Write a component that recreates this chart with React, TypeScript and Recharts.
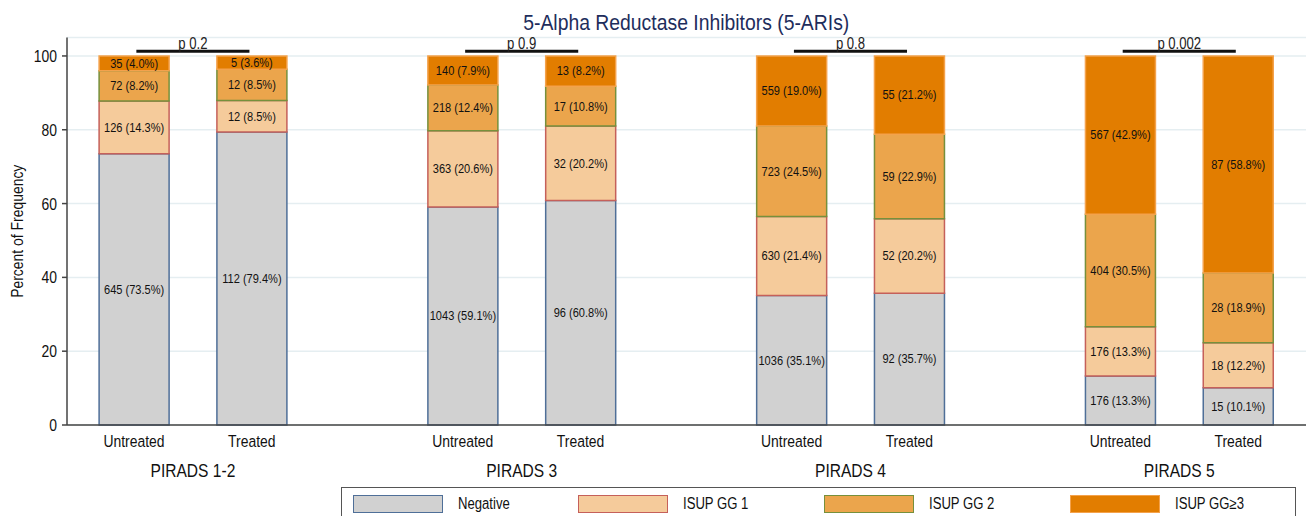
import {
	Bar,
	BarChart,
	CartesianGrid,
	LabelList,
	Legend,
	ReferenceLine,
	XAxis,
	YAxis,
} from 'recharts';

const FONT = "'Liberation Sans', Arial, sans-serif";
// no narrow font installed, so squeeze glyphs horizontally
const SQUEEZE = 0.82;

const groups = ['PIRADS 1-2', 'PIRADS 3', 'PIRADS 4', 'PIRADS 5'];
const arms = ['Untreated', 'Treated'];
const pValues = ['p 0.2', 'p 0.9', 'p 0.8', 'p 0.002'];

// order: G1 untreated, G1 treated, G2 untreated, ...
const negativeN = [645, 112, 1043, 96, 1036, 92, 176, 15];
const negativePct = [73.5, 79.4, 59.1, 60.8, 35.1, 35.7, 13.3, 10.1];
const gg1N = [126, 12, 363, 32, 630, 52, 176, 18];
const gg1Pct = [14.3, 8.5, 20.6, 20.2, 21.4, 20.2, 13.3, 12.2];
const gg2N = [72, 12, 218, 17, 723, 59, 404, 28];
const gg2Pct = [8.2, 8.5, 12.4, 10.8, 24.5, 22.9, 30.5, 18.9];
const gg3N = [35, 5, 140, 13, 559, 55, 567, 87];
const gg3Pct = [4.0, 3.6, 7.9, 8.2, 19.0, 21.2, 42.9, 58.8];

const yTicks = [0, 20, 40, 60, 80, 100];

const GROUP_STEP = 2.791;

const series = [
	{ key: 'neg', name: 'Negative', n: negativeN, pct: negativePct, fill: '#d1d1d1', stroke: '#4f6f98' },
	{ key: 'gg1', name: 'ISUP GG 1', n: gg1N, pct: gg1Pct, fill: '#f5cb9b', stroke: '#c5605a' },
	{ key: 'gg2', name: 'ISUP GG 2', n: gg2N, pct: gg2Pct, fill: '#eba54c', stroke: '#76903c' },
	{ key: 'gg3', name: 'ISUP GG\u22653', n: gg3N, pct: gg3Pct, fill: '#e27d00', stroke: '#f4a24c' },
];

const rows = negativeN.map((_, i) => {
	const g = Math.floor(i / 2);
	const a = i % 2;
	const row: Record<string, number | string> = { pos: g * GROUP_STEP + a, arm: arms[a], group: groups[g] };
	series.forEach((s) => {
		row[s.key] = s.pct[i];
		row[s.key + 'Label'] = `${s.n[i]} (${s.pct[i].toFixed(1)}%)`;
	});
	return row;
});

const armTicks = rows.map((r) => r.pos as number);
const groupTicks = groups.map((_, g) => g * GROUP_STEP + 0.5);
const X_DOMAIN: [number, number] = [-0.5688, 9.949];

// legend item offsets inside the legend box
const LEGEND_SWATCH_X = [12, 237, 483, 729];

function NText({ x, y, size, anchor = 'middle', sx = SQUEEZE, fill = '#111', children }: any) {
	return (
		<text
			transform={`translate(${x} ${y}) scale(${sx} 1)`}
			textAnchor={anchor}
			dominantBaseline="central"
			fontFamily={FONT}
			fontSize={size}
			fill={fill}
		>
			{children}
		</text>
	);
}

function ArmTick(props: any) {
	const { x, y, index } = props;
	return <NText x={x} y={y + 16} size={17}>{arms[index % 2]}</NText>;
}

function GroupTick(props: any) {
	const { x, y, index } = props;
	return <NText x={x} y={y + 15} size={19}>{groups[index]}</NText>;
}

function YTick(props: any) {
	const { x, y, payload } = props;
	return <NText x={x} y={y} size={17} anchor="end">{payload.value}</NText>;
}

function YTitle(props: any) {
	const { viewBox } = props;
	const cy = viewBox.y + viewBox.height / 2;
	return (
		<text
			transform={`translate(17 ${cy}) rotate(-90) scale(${SQUEEZE} 1)`}
			textAnchor="middle"
			dominantBaseline="central"
			fontFamily={FONT}
			fontSize={17}
			fill="#111"
		>
			Percent of Frequency
		</text>
	);
}

function SegmentLabel(props: any) {
	const { x, y, width, height, value } = props;
	return <NText x={x + width / 2} y={y + height / 2} size={13.5}>{value}</NText>;
}

function LegendBox() {
	return (
		<div
			style={{
				position: 'relative',
				boxSizing: 'border-box',
				width: 955,
				height: 40,
				border: '1px solid #555',
				background: '#fff',
				fontFamily: FONT,
				fontSize: 16,
				color: '#111',
			}}
		>
			{series.map((s, i) => (
				<div key={s.key} style={{ position: 'absolute', left: LEGEND_SWATCH_X[i] - 1, top: 7, display: 'flex', alignItems: 'center' }}>
					<div style={{ boxSizing: 'border-box', width: 90, height: 18, background: s.fill, border: `1.5px solid ${s.stroke}` }} />
					<span style={{ marginLeft: 15, display: 'inline-block', transform: `scaleX(${SQUEEZE})`, transformOrigin: 'left center', whiteSpace: 'nowrap' }}>
						{s.name}
					</span>
				</div>
			))}
		</div>
	);
}

export default function App() {
	return (
		<div style={{ position: 'relative', width: 1306, height: 516, overflow: 'hidden', background: '#fff' }}>
			<style>{'body{margin:0}'}</style>
			<div
				style={{
					position: 'absolute',
					left: 67,
					width: 1239,
					top: 11,
					textAlign: 'center',
					fontFamily: FONT,
					fontSize: 22,
					lineHeight: '24px',
					color: '#1e2d5c',
				}}
			>
				<span style={{ display: 'inline-block', transform: 'scaleX(0.88)', whiteSpace: 'nowrap' }}>
					5-Alpha Reductase Inhibitors (5-ARIs)
				</span>
			</div>
			<BarChart width={1306} height={516} data={rows} margin={{ top: 37.5, right: 0, bottom: 0, left: 0 }}>
				<CartesianGrid vertical={false} stroke="#e5eef1" strokeWidth={1.5} />
				<XAxis
					xAxisId={0}
					dataKey="pos"
					type="number"
					domain={X_DOMAIN}
					allowDataOverflow
					ticks={armTicks}
					interval={0}
					height={30}
					tickLine={false}
					tickSize={0}
					tickMargin={0}
					axisLine={{ stroke: '#444', strokeWidth: 1.5 }}
					tick={<ArmTick />}
				/>
				<XAxis
					xAxisId="grp"
					dataKey="pos"
					type="number"
					domain={X_DOMAIN}
					allowDataOverflow
					ticks={groupTicks}
					interval={0}
					height={61}
					tickLine={false}
					axisLine={false}
					tickSize={0}
					tickMargin={0}
					tick={<GroupTick />}
				/>
				<YAxis
					domain={[0, 105]}
					ticks={yTicks}
					interval={0}
					width={67}
					tickSize={5}
					tickMargin={5}
					axisLine={{ stroke: '#444', strokeWidth: 1.5 }}
					tickLine={{ stroke: '#444', strokeWidth: 1.5 }}
					tick={<YTick />}
					label={<YTitle />}
				/>
				{series.map((s) => (
					<Bar
						key={s.key}
						dataKey={s.key}
						name={s.name}
						stackId="s"
						barSize={70}
						fill={s.fill}
						stroke={s.stroke}
						strokeWidth={1.5}
						isAnimationActive={false}
					>
						<LabelList dataKey={s.key + 'Label'} content={<SegmentLabel />} />
					</Bar>
				))}
				{pValues.map((p, g) => (
					<ReferenceLine
						key={p}
						segment={[
							{ x: g * GROUP_STEP + 0.02, y: 101.3 },
							{ x: g * GROUP_STEP + 0.98, y: 101.3 },
						]}
						stroke="#111"
						strokeWidth={3}
						ifOverflow="visible"
						label={(lp: any) => {
							const vb = lp.viewBox;
							return <NText x={vb.x + vb.width / 2} y={vb.y - 8} size={16} fill="#222">{p}</NText>;
						}}
					/>
				))}
				<Legend
					layout="horizontal"
					verticalAlign="middle"
					align="center"
					wrapperStyle={{ left: 341, top: 487, width: 955, height: 40 }}
					content={<LegendBox />}
				/>
			</BarChart>
		</div>
	);
}
